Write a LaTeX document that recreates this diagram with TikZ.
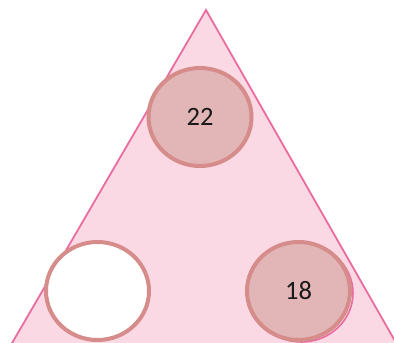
\documentclass[tikz,border=0pt]{standalone}
\usepackage{fontspec}
\setmainfont{Carlito}
\usetikzlibrary{shapes.geometric}
\definecolor{trifill}{RGB}{250,217,229}
\definecolor{trilne}{RGB}{233,108,160}
\definecolor{circfill}{RGB}{226,182,182}
\definecolor{circline}{RGB}{213,140,138}
\definecolor{txt}{RGB}{25,25,25}
\tikzset{
  ball/.style={ellipse, draw=circline, line width=4pt, minimum width=103pt, minimum height=98pt, inner sep=0pt,
    font=\fontsize{26.5}{30}\selectfont, text=txt},
}
\begin{document}
\begin{tikzpicture}[x=1pt,y=1pt]
\useasboundingbox (0,0) rectangle (394,-343);
\begin{scope}
\clip (0,0) rectangle (394,-343);
\draw[fill=trifill, draw=trilne, line width=1.8pt, line join=miter]
  (206,-10) -- (1,-362) -- (407,-362) -- cycle;
\node[ellipse, draw=trilne, line width=1.6pt, minimum width=103pt, minimum height=98pt, inner sep=0pt] (shadow) at (301.5,-293) {};
\node[ball, fill=circfill] (top) at (200,-117) {22};
\node[ball, fill=white] (left) at (97.5,-291) {};
\node[ball, fill=circfill] (right) at (298.5,-291) {18};
\end{scope}
\end{tikzpicture}
\end{document}
